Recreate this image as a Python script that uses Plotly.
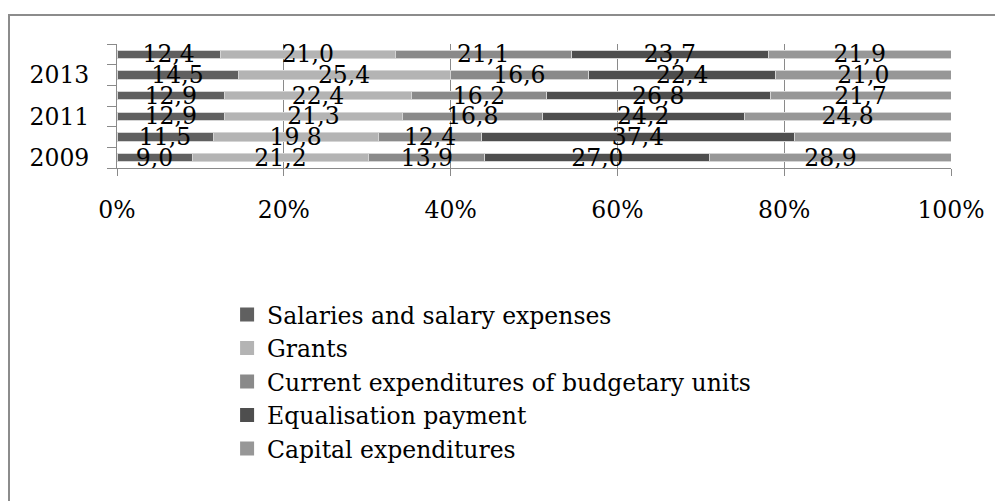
import plotly.graph_objects as go

years = ["2009", "2010", "2011", "2012", "2013", "2014"]
year_labels = ["2009", "", "2011", "", "2013", ""]
series_names = [
    "Salaries and salary expenses",
    "Grants",
    "Current expenditures of budgetary units",
    "Equalisation payment",
    "Capital expenditures",
]
salaries = [9.0, 11.5, 12.9, 12.9, 14.5, 12.4]
grants = [21.2, 19.8, 21.3, 22.4, 25.4, 21.0]
current = [13.9, 12.4, 16.8, 16.2, 16.6, 21.1]
equalisation = [27.0, 37.4, 24.2, 26.8, 22.4, 23.7]
capital = [28.9, 18.8, 24.8, 21.7, 21.0, 21.9]
colors = ["#606060", "#b4b4b4", "#8a8a8a", "#4e4e4e", "#979797"]
x_ticks = [0, 20, 40, 60, 80, 100]
x_ticktext = ["0%", "20%", "40%", "60%", "80%", "100%"]

FONT = "DejaVu Serif, serif"
FS = 23.5

# plot area in figure px (page adds an 8px body margin)
L, T, W, H = 109, 36, 834, 124

fig = go.Figure()
for name, vals, col in zip(series_names, [salaries, grants, current, equalisation, capital], colors):
    fig.add_trace(go.Bar(
        y=years, x=vals, name=name, orientation="h",
        marker=dict(color=col, line=dict(color="#d4d4d4", width=1)),
        text=[f"{v:.1f}".replace(".", ",") for v in vals],
        textposition="inside", insidetextanchor="middle",
        constraintext="none", cliponaxis=False,
        textfont=dict(family=FONT, size=FS, color="black"),
        hoverinfo="skip", showlegend=False, legendgroup=name,
    ))
# legend entries with larger square swatches
for name, col in zip(series_names, colors):
    fig.add_trace(go.Scatter(
        x=[None], y=[None], mode="markers", name=name, legendgroup=name,
        marker=dict(symbol="square", size=14, color=col),
        hoverinfo="skip", showlegend=True,
    ))

fig.update_layout(
    barmode="stack", barnorm="percent", bargap=0.6,
    width=1003, height=501,
    margin=dict(l=L, r=1003 - L - W, t=T, b=501 - T - H, autoexpand=False),
    paper_bgcolor="white", plot_bgcolor="white",
    font=dict(family=FONT, size=FS, color="black"),
    showlegend=True,
    legend=dict(
        x=0.132, y=-1.005, xanchor="left", yanchor="top",
        traceorder="normal", font=dict(family=FONT, size=FS, color="black"),
        itemwidth=30, tracegroupgap=0, bgcolor="rgba(0,0,0,0)",
    ),
    shapes=[dict(type="rect", xref="paper", yref="paper",
                 x0=(1 - L) / W, x1=(1020 - L) / W,
                 y0=(T + H - 520) / H, y1=(T + H - 7) / H,
                 line=dict(color="#8c8c8c", width=2), fillcolor="rgba(0,0,0,0)", layer="below")],
)
fig.update_xaxes(
    range=[0, 100], tickvals=x_ticks, ticktext=x_ticktext,
    showgrid=True, gridcolor="#8a8a8a", gridwidth=1,
    showline=True, linecolor="#8a8a8a", linewidth=1,
    ticks="outside", ticklen=7, tickcolor="#8a8a8a",
    ticklabelstandoff=14, zeroline=False, automargin=False,
    tickfont=dict(family=FONT, size=FS, color="black"),
)
fig.update_yaxes(
    type="category", categoryorder="array", categoryarray=years,
    tickvals=years, ticktext=year_labels, tickson="boundaries",
    showgrid=False, showline=True, linecolor="#8a8a8a", linewidth=1,
    ticks="outside", ticklen=9, tickcolor="#8a8a8a",
    ticklabelstandoff=22, automargin=False,
    tickfont=dict(family=FONT, size=FS, color="black"),
)

fig.write_html("out.html")
